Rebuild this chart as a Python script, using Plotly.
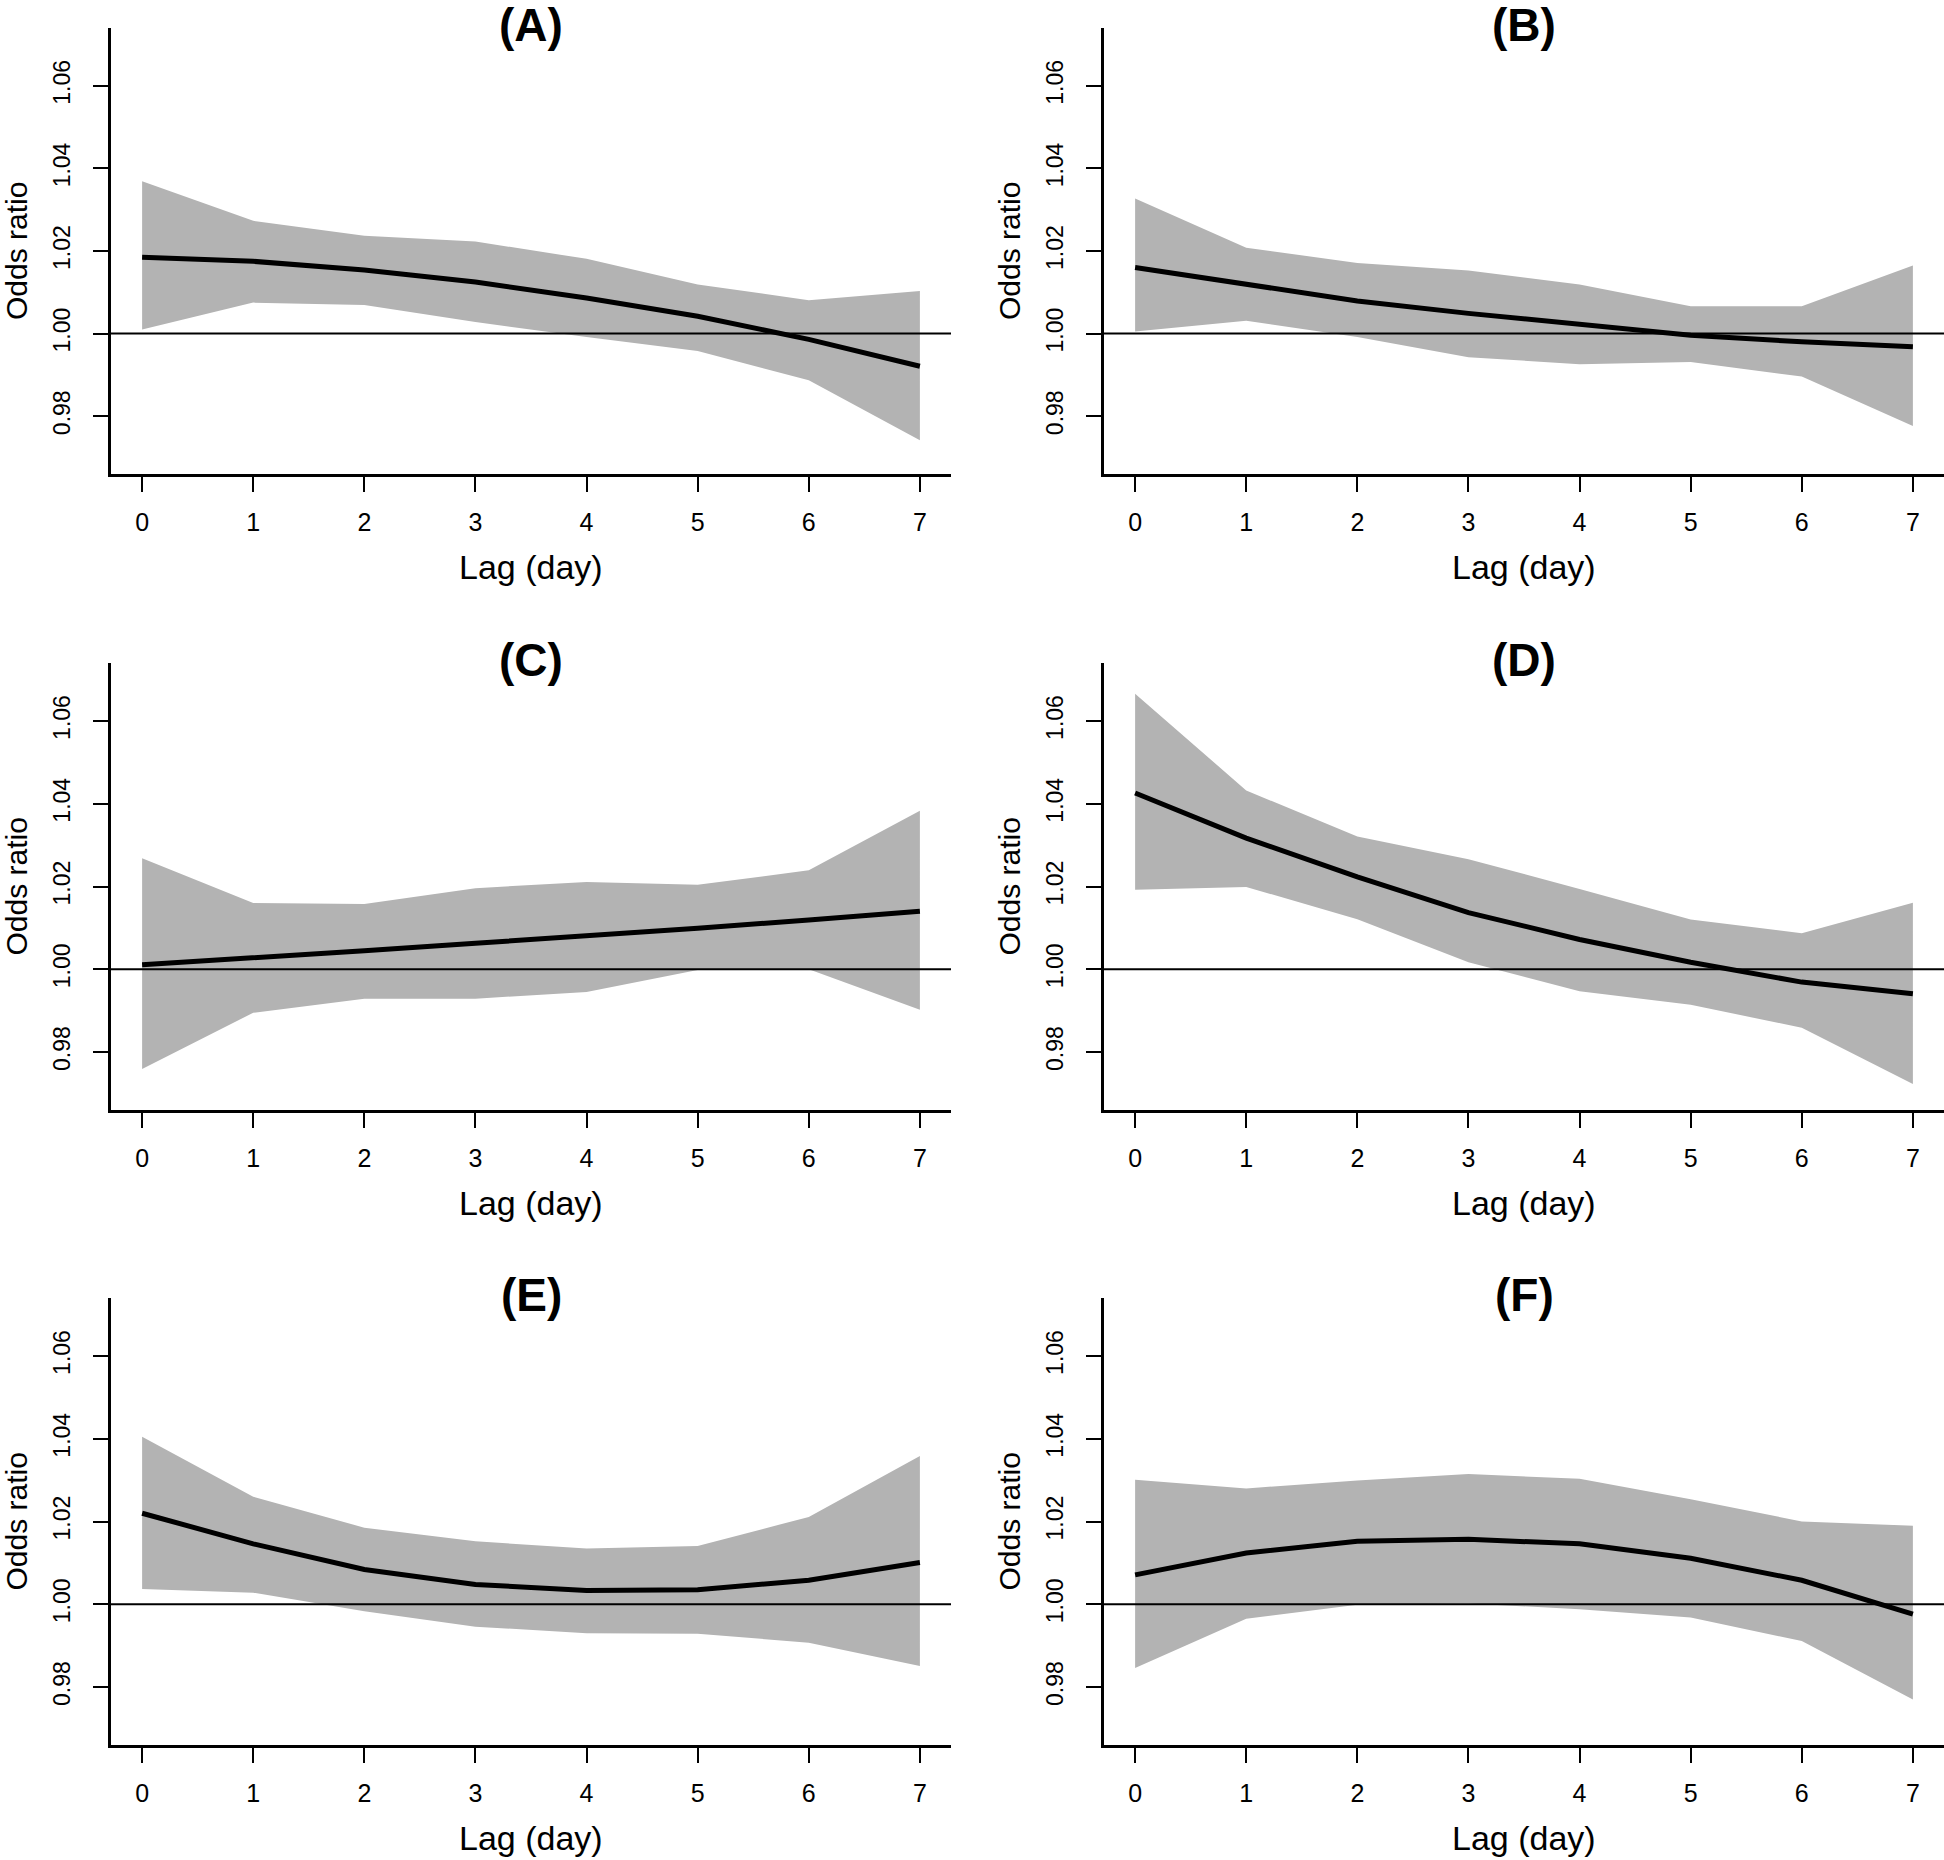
import plotly.graph_objects as go

lags = [0, 1, 2, 3, 4, 5, 6, 7]
panel_labels = ["(A)", "(B)", "(C)", "(D)", "(E)", "(F)"]
y_tick_vals = [0.98, 1.00, 1.02, 1.04, 1.06]
x_tick_vals = [0, 1, 2, 3, 4, 5, 6, 7]

# Panel A
or_A = [1.0185, 1.0175, 1.0154, 1.0125, 1.0086, 1.0042, 0.9986, 0.9921]
lo_A = [1.0010, 1.0075, 1.0069, 1.0028, 0.9992, 0.9958, 0.9887, 0.9742]
hi_A = [1.0369, 1.0273, 1.0237, 1.0223, 1.0181, 1.0119, 1.0081, 1.0103]
# Panel B
or_B = [1.0160, 1.0119, 1.0079, 1.0049, 1.0021, 0.9996, 0.9980, 0.9968]
lo_B = [1.0005, 1.0031, 0.9992, 0.9943, 0.9926, 0.9931, 0.9896, 0.9776]
hi_B = [1.0327, 1.0208, 1.0171, 1.0153, 1.0119, 1.0066, 1.0066, 1.0165]
# Panel C
or_C = [1.0011, 1.0027, 1.0045, 1.0063, 1.0080, 1.0099, 1.0119, 1.0140]
lo_C = [0.9759, 0.9895, 0.9929, 0.9929, 0.9945, 0.9998, 1.0000, 0.9902]
hi_C = [1.0268, 1.0160, 1.0158, 1.0196, 1.0211, 1.0204, 1.0239, 1.0383]
# Panel D
or_D = [1.0426, 1.0317, 1.0223, 1.0137, 1.0072, 1.0017, 0.9969, 0.9941]
lo_D = [1.0192, 1.0199, 1.0121, 1.0017, 0.9947, 0.9914, 0.9859, 0.9723]
hi_D = [1.0666, 1.0432, 1.0321, 1.0266, 1.0194, 1.0120, 1.0087, 1.0161]
# Panel E
or_E = [1.0220, 1.0146, 1.0084, 1.0048, 1.0033, 1.0035, 1.0058, 1.0101]
lo_E = [1.0037, 1.0028, 0.9983, 0.9946, 0.9930, 0.9929, 0.9907, 0.9851]
hi_E = [1.0405, 1.0260, 1.0185, 1.0152, 1.0135, 1.0141, 1.0211, 1.0358]
# Panel F
or_F = [1.0071, 1.0124, 1.0152, 1.0157, 1.0146, 1.0111, 1.0058, 0.9976]
lo_F = [0.9846, 0.9965, 0.9999, 1.0002, 0.9988, 0.9968, 0.9911, 0.9770]
hi_F = [1.0301, 1.0280, 1.0299, 1.0315, 1.0303, 1.0254, 1.0200, 1.0190]

panels = [
    (or_A, lo_A, hi_A), (or_B, lo_B, hi_B),
    (or_C, lo_C, hi_C), (or_D, lo_D, hi_D),
    (or_E, lo_E, hi_E), (or_F, lo_F, hi_F),
]

W, H = 1944, 1860
FONT = "Liberation Sans, Arial, Helvetica, sans-serif"
BAND = "#B3B3B3"

col_px = [(111, 951), (1104, 1944)]
row_px = [(28, 474), (663, 1110), (1298, 1745)]

fig = go.Figure()
annotations = []
shapes = []

for i, (est, lo, hi) in enumerate(panels):
    r, c = divmod(i, 2)
    n = i + 1
    xa = "x" if n == 1 else f"x{n}"
    ya = "y" if n == 1 else f"y{n}"
    x0, x1 = col_px[c]
    y0, y1 = row_px[r]

    fig.add_trace(go.Scatter(
        x=lags + lags[::-1], y=hi + lo[::-1], fill="toself",
        fillcolor=BAND, line=dict(width=0), mode="lines",
        hoverinfo="skip", showlegend=False, xaxis=xa, yaxis=ya))
    fig.add_trace(go.Scatter(
        x=lags, y=est, mode="lines", line=dict(color="black", width=5),
        showlegend=False, xaxis=xa, yaxis=ya))

    shapes.append(dict(type="line", xref=f"{xa} domain", yref=ya,
                       x0=0, x1=1, y0=1.0, y1=1.0,
                       line=dict(color="black", width=2), layer="above"))

    dom_x = [x0 / W, min(x1 / W, 1.0)]
    dom_y = [1 - y1 / H, 1 - y0 / H]
    axis_common = dict(showgrid=False, zeroline=False, showline=True,
                       linecolor="black", linewidth=2.5, ticks="outside",
                       ticklen=15, tickwidth=2.2, tickcolor="black",
                       mirror=False)
    fig.update_layout(**{
        ("xaxis" if n == 1 else f"xaxis{n}"): dict(
            domain=dom_x, anchor=ya, range=[-0.28, 7.28],
            tickvals=x_tick_vals, ticktext=[str(v) for v in x_tick_vals],
            tickfont=dict(family=FONT, size=25, color="black"),
            ticklabelstandoff=9, **axis_common),
        ("yaxis" if n == 1 else f"yaxis{n}"): dict(
            domain=dom_y, anchor=xa, range=[0.966, 1.074],
            tickvals=y_tick_vals, ticktext=[f"{v:.2f}" for v in y_tick_vals],
            tickangle=-90,
            tickfont=dict(family=FONT, size=23, color="black"),
            ticklabelstandoff=14, **axis_common),
    })

    cx = (x0 + x1) / 2 / W
    annotations.append(dict(text=f"<b>{panel_labels[i]}</b>", x=cx,
                            y=1 - 25 / H - (y0 - 28) / H, xref="paper", yref="paper",
                            xanchor="center", yanchor="middle", showarrow=False,
                            font=dict(family=FONT, size=46, color="black")))
    annotations.append(dict(text="Lag (day)", x=cx,
                            y=1 - (y1 + 93) / H, xref="paper", yref="paper",
                            xanchor="center", yanchor="middle", showarrow=False,
                            font=dict(family=FONT, size=34, color="black")))
    annotations.append(dict(text="Odds ratio", x=(x0 - 95) / W,
                            y=1 - (y0 + y1) / 2 / H, xref="paper", yref="paper",
                            xanchor="center", yanchor="middle", textangle=-90,
                            showarrow=False,
                            font=dict(family=FONT, size=30, color="black")))

fig.update_layout(width=W, height=H, margin=dict(l=0, r=0, t=0, b=0),
                  plot_bgcolor="white", paper_bgcolor="white",
                  annotations=annotations, shapes=shapes, showlegend=False)

fig.write_html("out.html",
               config={"displayModeBar": False},
               post_script="document.body.style.margin='0px';"
                           "document.body.style.overflow='hidden';")
